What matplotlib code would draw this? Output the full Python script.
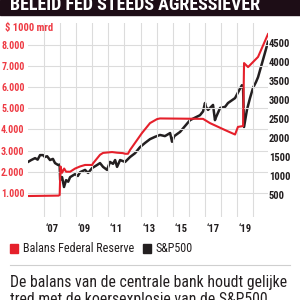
import matplotlib
matplotlib.use("Agg")
import matplotlib.pyplot as plt
from matplotlib.patches import Rectangle
from matplotlib.lines import Line2D

# ---------------- data ----------------
fed_x = [2006.00, 2007.90, 2007.97, 2008.02, 2008.12, 2008.25, 2008.37, 2008.62,
         2008.93, 2009.24, 2009.55, 2009.99, 2010.05, 2010.48, 2010.67, 2011.23,
         2011.54, 2011.90, 2012.04, 2012.22, 2012.35, 2013.09, 2013.59, 2014.03,
         2014.21, 2016.89, 2017.32, 2018.26, 2018.88, 2019.06, 2019.38, 2019.44,
         2019.69, 2020.31, 2020.93]
fed_v = [850, 870, 900, 2250, 1950, 2150, 2000, 2000,
         2150, 2250, 2320, 2320, 2400, 2800, 2890, 2930,
         2900, 2880, 2850, 2850, 3030, 3830, 4300, 4490,
         4520, 4500, 4300, 3970, 3760, 4120, 4160, 7140,
         6950, 7430, 8510]

sp_x = [2006.00, 2006.20, 2006.44, 2006.60, 2006.75, 2006.94, 2007.05, 2007.19,
        2007.37, 2007.55, 2007.68, 2007.87, 2007.97, 2008.00, 2008.12, 2008.24,
        2008.37, 2008.50, 2008.62, 2008.93, 2009.10, 2009.24, 2009.55, 2009.74,
        2009.99, 2010.30, 2010.48, 2010.67, 2010.92, 2011.10, 2011.29, 2011.42,
        2011.54, 2011.73, 2012.04, 2012.35, 2012.66, 2012.97, 2013.28, 2013.59,
        2013.90, 2014.21, 2014.52, 2014.84, 2014.96, 2015.10, 2015.46, 2016.08,
        2016.70, 2016.89, 2017.01, 2017.07, 2017.20, 2017.51, 2017.63, 2017.70,
        2017.95, 2018.26, 2018.44, 2018.88, 2019.19, 2019.31, 2019.38, 2019.44,
        2019.62, 2019.81, 2020.00, 2020.18, 2020.31, 2020.56, 2020.74, 2020.93]
sp_v = [1370, 1420, 1470, 1430, 1550, 1550, 1500, 1520,
        1420, 1450, 1340, 1290, 1300, 890, 970, 710,
        890, 850, 970, 1050, 1000, 1100, 1160, 1080,
        1210, 1290, 1340, 1240, 1160, 1370, 1320, 1420,
        1240, 1420, 1370, 1500, 1600, 1760, 1870, 1970,
        2030, 2080, 2050, 2130, 1900, 2050, 2160, 2470,
        2600, 2700, 2920, 2820, 2740, 2870, 2470, 2550,
        2790, 2820, 2920, 3050, 3300, 3390, 3300, 2290,
        2740, 3050, 3320, 3470, 3600, 3970, 4240, 4530]

left_ticks = [1000, 2000, 3000, 4000, 5000, 6000, 7000, 8000]
left_labels = ["1.000", "2.000", "3.000", "4.000", "5.000", "6.000", "7.000", "8.000"]
right_ticks = [500, 1000, 1500, 2000, 2500, 3000, 3500, 4000, 4500]
year_grid = list(range(2007, 2021))
year_labels = ["‘07", "‘09", "‘11", "‘13", "‘15", "‘17", "‘19"]
year_label_pos = [2007.5, 2009.5, 2011.5, 2013.5, 2015.5, 2017.5, 2019.5]

title = "BELEID FED STEEDS AGRESSIEVER"
unit = "$ 1000 mrd"
legend_names = ["Balans Federal Reserve", "S&P500"]
caption1 = "De balans van de centrale bank houdt gelijke"
caption2 = "tred met de koersexplosie van de S&P500"

# ---------------- style ----------------
RED = "#e5202b"
DARK = "#231f20"
LRED = "#ee3a43"
HEAD = "#1d0d16"
GRID = "#dcdcdc"
FAM = ["Roboto Condensed", "Archivo Narrow", "Liberation Sans Narrow", "DejaVu Sans"]

fig = plt.figure(figsize=(3, 3), dpi=100)
fig.patch.set_facecolor("white")

ax = fig.add_axes([28/300, 1 - 217/300, 240/300, 194/300])
ax2 = ax.twinx()

ax.set_xlim(2006.0, 2020.93)
ax.set_ylim(-142, 9035)
ax2.set_ylim(-79, 5026)

for a in (ax, ax2):
    for s in a.spines.values():
        s.set_visible(False)
    a.set_facecolor("none")

ax.set_xticks(year_grid)
ax.set_xticklabels([])
ax.set_yticks(left_ticks)
ax.set_yticklabels(left_labels)
ax.grid(True, color=GRID, lw=0.8)
ax.tick_params(length=0)
ax.tick_params(axis="y", pad=2.5, labelcolor=LRED)
for t in ax.get_yticklabels():
    t.set_fontsize(7.2); t.set_fontweight("bold"); t.set_fontfamily(FAM)

ax2.set_yticks(right_ticks)
ax2.set_yticklabels([str(v) for v in right_ticks])
ax2.tick_params(length=0, pad=0.5, labelcolor=DARK)
for t in ax2.get_yticklabels():
    t.set_fontsize(7.6); t.set_fontweight("bold"); t.set_fontfamily(FAM)

for xp, lab in zip(year_label_pos, year_labels):
    ax.text(xp, -0.035, lab, transform=ax.get_xaxis_transform(), ha="center", va="top",
            fontsize=7.6, fontweight="bold", color=DARK, family=FAM)

ax2.plot(sp_x, sp_v, color=DARK, lw=1.8, zorder=3)
ax.plot(fed_x, fed_v, color=RED, lw=1.5, zorder=4)
ax.set_zorder(ax2.get_zorder() + 1)

# header band
fig.patches.append(Rectangle((0, 1 - 15/300), 1, 15/300, transform=fig.transFigure,
                             color=HEAD, zorder=0))
fig.text(10/300, 1 - 10/300, title, ha="left", va="baseline", color="white",
         fontsize=13, fontweight="bold", family=FAM)

fig.text(5/300, 1 - 28/300, unit, ha="left", va="center", color=LRED,
         fontsize=7.6, fontweight="bold", family=FAM)

# legend
fig.patches.append(Rectangle((10/300, 1 - 253/300), 8/300, 9/300, transform=fig.transFigure,
                             color=RED))
fig.text(23/300, 1 - 248.5/300, legend_names[0], ha="left", va="center", color=DARK,
         fontsize=8.7, family=FAM)
fig.patches.append(Rectangle((143/300, 1 - 253/300), 8/300, 9/300, transform=fig.transFigure,
                             color=DARK))
fig.text(155/300, 1 - 248.5/300, legend_names[1], ha="left", va="center", color=DARK,
         fontsize=8.7, family=FAM)

fig.lines.append(Line2D([10/300, 290/300], [1 - 265/300, 1 - 265/300],
                        transform=fig.transFigure, color="#cfcfcf", lw=0.8))

fig.text(10/300, 1 - 287/300, caption1, ha="left", va="baseline", color=DARK,
         fontsize=11.3, family=FAM)
fig.text(10/300, 1 - 304/300, caption2, ha="left", va="baseline", color=DARK,
         fontsize=11.3, family=FAM)

fig.savefig("out.png", dpi=100)
